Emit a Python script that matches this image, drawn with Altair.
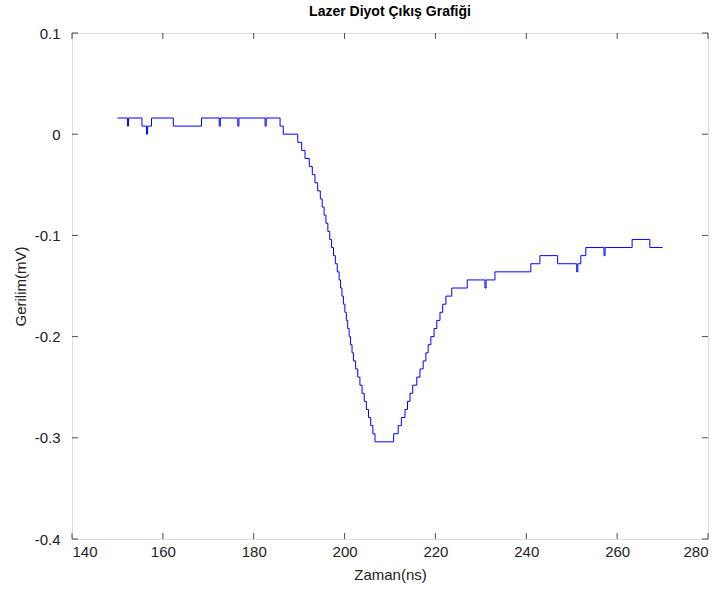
import altair as alt
import pandas as pd

# Change points of the stepped signal (time in ns, level in mV)
times = [150.0, 152.2, 152.45, 155.4, 156.4, 156.65, 157.5, 162.3, 168.5,
         172.4, 172.65, 176.5, 176.75, 182.5, 182.75, 185.8, 186.5,
         189.7, 190.56, 191.29, 192.23, 192.90, 193.49, 194.08, 194.66,
         195.07, 195.49, 195.90, 196.32, 196.73, 197.14, 197.56, 197.97,
         198.39, 198.80, 199.12, 199.43, 199.75, 200.06, 200.38, 200.69,
         201.01, 201.32, 201.64, 201.95, 202.43, 202.90, 203.38, 203.85,
         204.33, 204.80, 205.28, 205.75, 206.23, 206.70,
         210.8, 211.8, 212.5, 213.3, 213.85, 214.4, 215.0, 215.9, 216.6,
         217.3, 217.9, 218.4, 219.0, 219.7, 220.3, 221.0, 221.6, 222.3,
         223.6, 227.0, 230.9, 231.15, 233.1, 241.0, 243.0, 246.9, 251.1,
         251.35, 252.0, 253.1, 257.1, 257.35, 263.3, 267.2, 270.0]
levels = [0.016, 0.008, 0.016, 0.008, 0.000, 0.008, 0.016, 0.008, 0.016,
          0.008, 0.016, 0.008, 0.016, 0.008, 0.016, 0.008, 0.000,
          -0.008, -0.016, -0.024, -0.032, -0.040, -0.048, -0.056, -0.064,
          -0.072, -0.080, -0.088, -0.096, -0.104, -0.112, -0.120, -0.128,
          -0.136, -0.144, -0.152, -0.160, -0.168, -0.176, -0.184, -0.192,
          -0.200, -0.208, -0.216, -0.224, -0.232, -0.240, -0.248, -0.256,
          -0.264, -0.272, -0.280, -0.288, -0.296, -0.304,
          -0.296, -0.288, -0.280, -0.272, -0.264, -0.256, -0.248, -0.240, -0.232,
          -0.224, -0.216, -0.208, -0.200, -0.192, -0.184, -0.176, -0.168, -0.160,
          -0.152, -0.144, -0.152, -0.144, -0.136, -0.128, -0.120, -0.128, -0.136,
          -0.128, -0.120, -0.112, -0.120, -0.112, -0.104, -0.112, -0.112]

x_ticks = [140, 160, 180, 200, 220, 240, 260, 280]
y_ticks = [0.1, 0.0, -0.1, -0.2, -0.3, -0.4]

W, H = 636, 506
FONT = "Liberation Sans"
FS = 15

df = pd.DataFrame({"t": times, "v": levels})
xt = pd.DataFrame({"t": x_ticks})
yt = pd.DataFrame({"v": y_ticks})

xscale = alt.Scale(domain=[140, 280], nice=False, zero=False)
yscale = alt.Scale(domain=[-0.4, 0.1], nice=False, zero=False)

x_axis = alt.Axis(values=x_ticks, title="Zaman(ns)", ticks=False, domain=False, grid=False,
                  labelPadding=5, labelFontSize=FS, titleFontSize=FS, titleFontWeight="normal",
                  labelFont=FONT, titleFont=FONT, labelColor="#222222", titleColor="#222222",
                  titlePadding=8, format="d")
y_axis = alt.Axis(values=y_ticks, title="Gerilim(mV)", ticks=False, domain=False, grid=False,
                  labelPadding=12, labelFontSize=FS, titleFontSize=FS, titleFontWeight="normal",
                  labelFont=FONT, titleFont=FONT, labelColor="#222222", titleColor="#222222",
                  titlePadding=6,
                  labelExpr="abs(datum.value) < 1e-9 ? '0' : (datum.value < 0 ? '-' + format(-datum.value, '.1f') : format(datum.value, '.1f'))")

line = alt.Chart(df).mark_line(interpolate="step-after", color="#0000ff", strokeWidth=1).encode(
    x=alt.X("t:Q", scale=xscale, axis=x_axis),
    y=alt.Y("v:Q", scale=yscale, axis=y_axis),
)

tick_len = 6
bottom_ticks = alt.Chart(xt).mark_tick(color="black", size=tick_len, thickness=1).encode(
    x=alt.X("t:Q", scale=xscale, axis=x_axis), y=alt.value(H - tick_len / 2))
top_ticks = alt.Chart(xt).mark_tick(color="black", size=tick_len, thickness=1).encode(
    x=alt.X("t:Q", scale=xscale, axis=x_axis), y=alt.value(tick_len / 2))
left_ticks = alt.Chart(yt).mark_tick(color="black", size=tick_len, thickness=1, orient="horizontal").encode(
    y=alt.Y("v:Q", scale=yscale, axis=y_axis), x=alt.value(tick_len / 2))
right_ticks = alt.Chart(yt).mark_tick(color="black", size=tick_len, thickness=1, orient="horizontal").encode(
    y=alt.Y("v:Q", scale=yscale, axis=y_axis), x=alt.value(W - tick_len / 2))

chart = alt.layer(line, bottom_ticks, top_ticks, left_ticks, right_ticks).properties(
    width=W, height=H,
    title=alt.TitleParams("Lazer Diyot Çıkış Grafiği", fontSize=14, fontWeight="bold", font=FONT,
                          anchor="middle", offset=7, color="black"),
    autosize=alt.AutoSizeParams(type="none"),
    padding={"left": 72, "top": 33, "right": 16, "bottom": 52},
).configure_view(stroke="black", strokeWidth=1).configure(background="white")

chart.save("out.html", embed_options={"renderer": "svg", "actions": False})
